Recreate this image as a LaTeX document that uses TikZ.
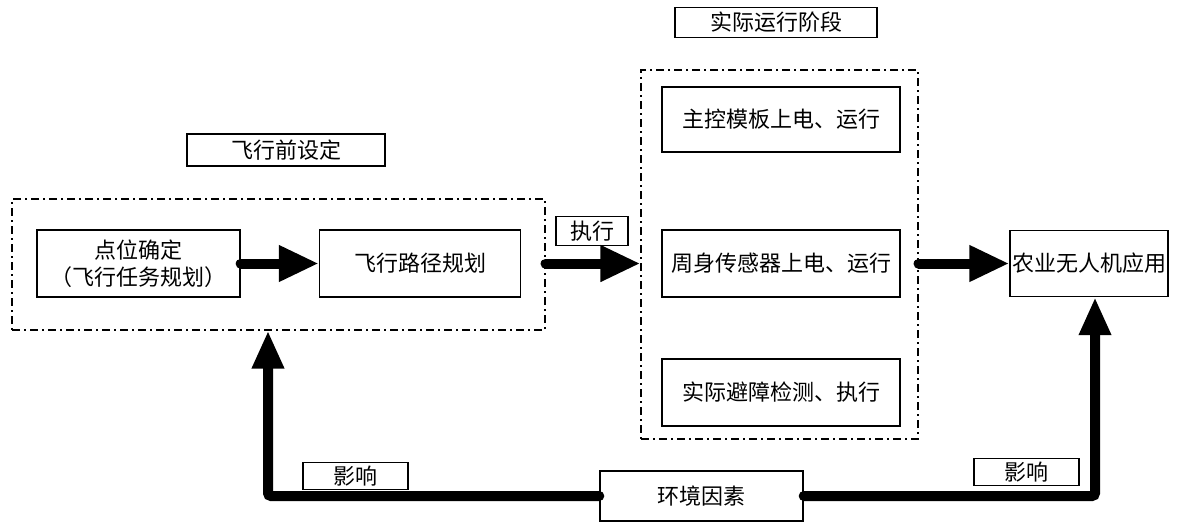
\documentclass[tikz,border=0pt]{standalone}
\usepackage{fontspec}
\newfontfamily\cjk{Noto Sans CJK SC}
\usetikzlibrary{arrows.meta,calc}
\begin{document}
\begin{tikzpicture}[x=1pt,y=-1pt,
  every node/.style={font=\cjk\fontsize{22}{27}\selectfont},
  box/.style={draw,line width=1.4pt,inner sep=0pt,align=center},
  grp/.style={draw,line width=1.2pt,dash pattern=on 8pt off 4pt on 2pt off 4pt,inner sep=0pt},
  bigarrow/.style={line width=10pt,line cap=round,-{Triangle[width=34pt,length=40pt]}},
  flowline/.style={line width=10pt,line cap=round,rounded corners=3pt,-{Triangle[width=30pt,length=38pt]}}]
\useasboundingbox (0,0) rectangle (1191,522);
% group frames
\node[grp,minimum width=533pt,minimum height=131pt] (predash) at (278.5,264.5) {};
\node[grp,minimum width=277pt,minimum height=369pt] (rundash) at (779.5,254.5) {};
% titles
\node[box,minimum width=198pt,minimum height=32pt] (pretitle) at (286,150) {飞行前设定};
\node[box,minimum width=202pt,minimum height=30pt] (runtitle) at (776,22.5) {实际运行阶段};
% boxes
\node[box,minimum width=203pt,minimum height=67pt] (b1) at (138.5,263.5) {点位确定\\（飞行任务规划）};
\node[box,minimum width=201pt,minimum height=67pt] (b2) at (420,263.5) {飞行路径规划};
\node[box,minimum width=238pt,minimum height=65pt] (m1) at (781,119.5) {主控模板上电、运行};
\node[box,minimum width=238pt,minimum height=67pt] (m2) at (781,263.5) {周身传感器上电、运行};
\node[box,minimum width=238pt,minimum height=67pt] (m3) at (781,392.5) {实际避障检测、执行};
\node[box,minimum width=158pt,minimum height=66pt] (app) at (1089,263.5) {农业无人机应用};
\node[box,minimum width=203pt,minimum height=50pt] (env) at (701.5,496) {环境因素};
% labels
\node[box,minimum width=72pt,minimum height=29pt] (exec) at (592,231) {执行};
\node[box,minimum width=105pt,minimum height=27pt] (inf1) at (355.5,476) {影响};
\node[box,minimum width=105pt,minimum height=27pt] (inf2) at (1026.5,472) {影响};
% connectors
\draw[bigarrow] (b1.east) -- (b2.west);
\draw[bigarrow] (predash.east |- m2) -- (rundash.west |- m2);
\draw[bigarrow] (rundash.east |- app) -- (app.west);
\coordinate (lx) at (268,0);
\coordinate (rx) at (1095,0);
\draw[flowline] (env.west) -| (predash.south -| lx);
\draw[flowline] (env.east) -| (app.south -| rx);
\end{tikzpicture}
\end{document}
